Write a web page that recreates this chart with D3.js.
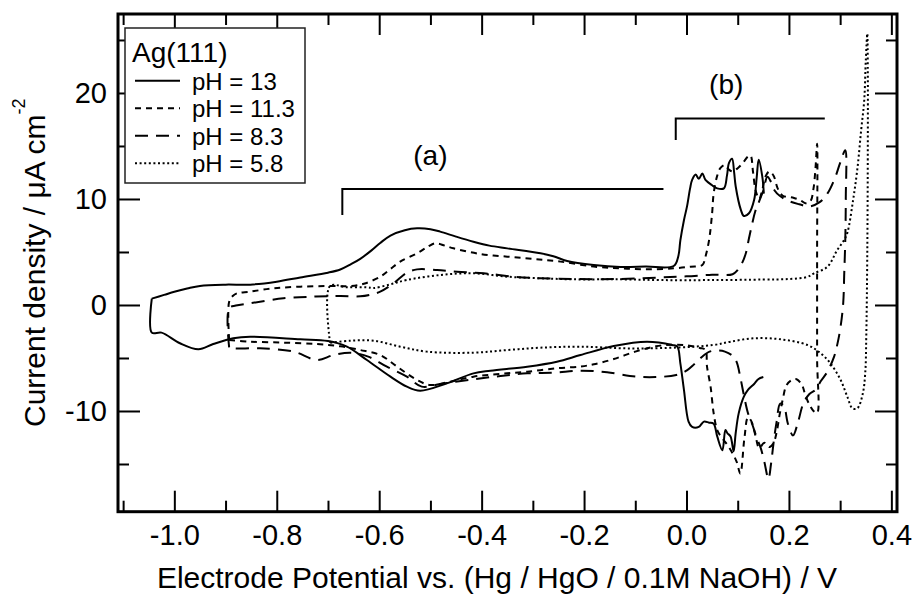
<!DOCTYPE html>
<html>
<head>
<meta charset="utf-8">
<script src="https://cdn.jsdelivr.net/npm/d3@7"></script>
<style>
  body { margin: 0; background: #fff; }
  svg { display: block; font-family: "Liberation Sans", Arial, Helvetica, sans-serif; }
</style>
</head>
<body>
<svg id="chart" width="913" height="599"></svg>
<script>
// CV curves: [potential / V, current density / uA cm-2]
const ph13 = [
  [-1.044, 0.6], [-1.02, 0.95], [-1.0, 1.25], [-0.975, 1.55], [-0.95, 1.8], [-0.9, 1.92], [-0.852, 1.92],
  [-0.8, 2.2], [-0.754, 2.6], [-0.7, 3.05], [-0.676, 3.35], [-0.655, 3.85], [-0.637, 4.35], [-0.615, 5.15],
  [-0.598, 5.85], [-0.578, 6.55], [-0.55, 7.05], [-0.526, 7.23], [-0.5, 7.15], [-0.481, 6.92], [-0.45, 6.45],
  [-0.416, 5.97], [-0.385, 5.6], [-0.35, 5.34], [-0.285, 4.88], [-0.26, 4.6], [-0.233, 4.15], [-0.181, 3.77],
  [-0.129, 3.58], [-0.08, 3.62], [-0.025, 3.68], [-0.016, 4.6], [-0.012, 6.1], [-0.005, 8.0], [0.001, 9.3],
  [0.007, 11.0], [0.011, 11.8], [0.018, 12.3], [0.024, 11.9], [0.031, 12.4], [0.037, 11.8], [0.05, 11.3],
  [0.06, 11.0], [0.073, 11.0], [0.079, 12.2], [0.083, 13.4], [0.089, 13.8], [0.093, 12.5], [0.096, 11.2],
  [0.106, 9.0], [0.112, 8.4], [0.122, 8.65], [0.132, 9.9], [0.137, 12.0], [0.141, 13.7], [0.148, 12.1],
  [0.151, 10.5],
  null,
  [0.15, -6.8], [0.14, -7.0], [0.132, -7.45], [0.12, -8.0], [0.112, -8.65], [0.102, -10.2], [0.096, -12.1],
  [0.092, -13.8], [0.086, -12.4], [0.08, -12.1], [0.076, -11.8], [0.07, -13.7], [0.06, -12.4], [0.053, -11.2],
  [0.044, -11.1], [0.034, -11.0], [0.024, -11.5], [0.011, -11.5], [0.004, -11.0], [-0.005, -8.0],
  [-0.012, -5.5], [-0.018, -3.93], [-0.028, -3.77], [-0.077, -3.46], [-0.142, -3.87], [-0.207, -4.72],
  [-0.253, -5.35], [-0.311, -5.82], [-0.383, -6.2], [-0.416, -6.45], [-0.468, -7.39], [-0.52, -8.08],
  [-0.546, -7.7], [-0.578, -6.76], [-0.624, -5.19], [-0.663, -3.93], [-0.7, -3.4], [-0.754, -3.24],
  [-0.852, -2.99], [-0.885, -3.14], [-0.924, -3.68], [-0.953, -4.18], [-0.989, -3.61], [-1.025, -2.61],
  [-1.044, -2.61], [-1.044, 0.6]
];

const ph113 = [
  [-0.893, -3.3], [-0.893, 0.3], [-0.886, 0.85], [-0.878, 1.1], [-0.852, 1.26], [-0.807, 1.57], [-0.754, 1.73],
  [-0.689, 1.79], [-0.655, 1.78], [-0.63, 2.0], [-0.598, 2.67], [-0.578, 3.4], [-0.559, 4.09], [-0.526, 4.88],
  [-0.505, 5.5], [-0.49, 5.82], [-0.472, 5.6], [-0.455, 5.35], [-0.403, 4.81], [-0.35, 4.56], [-0.298, 4.34],
  [-0.246, 4.09], [-0.181, 3.62], [-0.129, 3.46], [-0.077, 3.36], [-0.025, 3.46], [0.008, 3.61], [0.031, 3.77],
  [0.037, 4.56], [0.044, 6.1], [0.05, 8.65], [0.053, 10.5], [0.06, 12.2], [0.066, 12.9], [0.075, 13.2],
  [0.082, 12.8], [0.09, 12.6], [0.1, 12.9], [0.11, 13.4], [0.12, 14.0], [0.125, 14.1], [0.13, 12.5],
  [0.135, 10.8], [0.142, 10.0], [0.148, 10.9], [0.155, 12.2], [0.162, 12.6], [0.17, 12.2], [0.178, 11.0],
  [0.188, 10.3], [0.2, 10.2], [0.21, 10.1], [0.222, 9.9], [0.232, 9.6], [0.242, 9.8], [0.248, 11.0],
  [0.252, 13.0], [0.255, 15.2], [0.255, 5.0], [0.255, -5.0], [0.255, -10.2], [0.248, -10.0], [0.24, -9.4],
  [0.232, -8.5], [0.226, -7.6], [0.215, -7.0], [0.205, -7.1], [0.195, -7.6], [0.188, -8.9], [0.182, -10.3],
  [0.176, -12.0], [0.17, -13.0], [0.162, -13.4], [0.152, -13.0], [0.142, -13.5], [0.135, -12.4],
  [0.127, -11.0], [0.12, -10.6], [0.113, -12.6], [0.105, -15.9], [0.098, -14.8], [0.09, -14.0],
  [0.08, -13.2], [0.07, -12.6], [0.06, -11.8], [0.053, -10.2], [0.047, -7.7], [0.04, -5.8], [0.037, -4.25],
  [0.026, -4.05], [0.0, -3.8], [-0.03, -3.75], [-0.06, -3.9], [-0.1, -4.4], [-0.142, -5.1], [-0.181, -5.6],
  [-0.207, -5.8], [-0.253, -5.97], [-0.311, -6.29], [-0.363, -6.5], [-0.416, -6.76], [-0.461, -7.23],
  [-0.5, -7.55], [-0.526, -7.08], [-0.565, -5.82], [-0.598, -4.72], [-0.637, -4.25], [-0.676, -3.9],
  [-0.722, -3.68], [-0.787, -3.55], [-0.852, -3.46], [-0.893, -3.3]
];

const ph83 = [
  [-0.893, -4.0], [-0.893, -0.3], [-0.88, -0.05], [-0.852, 0.16], [-0.787, 0.63], [-0.728, 0.79], [-0.676, 0.85],
  [-0.637, 0.82], [-0.615, 1.0], [-0.598, 1.26], [-0.572, 2.04], [-0.546, 3.05], [-0.526, 3.36], [-0.487, 3.3],
  [-0.448, 3.14], [-0.396, 2.99], [-0.337, 2.67], [-0.285, 2.52], [-0.22, 2.45], [-0.129, 2.45], [-0.05, 2.6],
  [0.0, 2.7], [0.05, 2.85], [0.09, 2.9], [0.1, 3.3], [0.108, 3.9], [0.116, 4.9], [0.122, 6.3], [0.128, 7.6],
  [0.134, 8.8], [0.142, 9.8], [0.15, 10.8], [0.158, 12.1], [0.165, 11.6], [0.172, 10.8], [0.182, 10.3],
  [0.2, 9.8], [0.22, 9.5], [0.24, 9.3], [0.26, 9.7], [0.275, 10.5], [0.29, 12.0], [0.3, 13.4], [0.31, 14.6],
  [0.311, 10.0], [0.31, 6.1], [0.308, 3.0], [0.306, 0.2], [0.301, -2.0], [0.295, -3.6], [0.288, -4.9],
  [0.275, -6.3], [0.262, -7.2], [0.252, -8.0], [0.24, -8.4], [0.228, -9.3], [0.218, -11.0], [0.208, -12.3],
  [0.198, -11.2], [0.19, -9.5], [0.183, -9.3], [0.176, -11.0], [0.17, -13.0], [0.165, -15.0], [0.16, -16.4],
  [0.152, -14.8], [0.145, -13.5], [0.137, -12.5], [0.128, -11.2], [0.12, -10.2], [0.112, -8.5], [0.105, -6.8],
  [0.098, -5.4], [0.09, -4.8], [0.075, -4.4], [0.06, -4.3], [0.045, -4.4], [0.03, -4.9], [0.015, -5.6],
  [0.0, -6.2], [-0.02, -6.6], [-0.06, -6.8], [-0.1, -6.75], [-0.155, -6.35], [-0.207, -6.2], [-0.259, -6.39],
  [-0.311, -6.45], [-0.363, -6.7], [-0.416, -7.01], [-0.481, -7.45], [-0.517, -7.7], [-0.546, -6.76],
  [-0.585, -5.82], [-0.62, -4.9], [-0.655, -4.5], [-0.689, -4.72], [-0.722, -5.19], [-0.767, -4.4],
  [-0.833, -4.09], [-0.884, -4.09], [-0.893, -4.0]
];

const ph58 = [
  [-0.696, -3.56], [-0.696, 1.79], [-0.663, 1.67], [-0.624, 1.67], [-0.611, 1.6], [-0.578, 1.95], [-0.546, 2.36],
  [-0.481, 2.83], [-0.416, 2.99], [-0.35, 2.67], [-0.285, 2.52], [-0.22, 2.42], [-0.129, 2.42], [-0.05, 2.35],
  [0.05, 2.35], [0.15, 2.4], [0.2, 2.45], [0.236, 2.65], [0.249, 2.99], [0.275, 3.6], [0.2945, 5.2],
  [0.3075, 6.1], [0.314, 6.8], [0.325, 9.8], [0.334, 13.0], [0.341, 16.5], [0.347, 19.3], [0.35, 23.0],
  [0.353, 25.6], [0.354, 22.0], [0.354, 15.0], [0.353, 5.0], [0.351, -3.0], [0.349, -6.4], [0.344, -8.4],
  [0.3336, -9.75], [0.324, -9.75], [0.314, -8.65], [0.301, -7.08], [0.281, -5.5], [0.262, -4.56],
  [0.236, -3.77], [0.184, -3.24], [0.132, -3.14], [0.086, -3.46], [0.053, -3.77], [-0.013, -4.0],
  [-0.109, -4.1], [-0.207, -3.93], [-0.285, -4.03], [-0.35, -4.25], [-0.416, -4.5], [-0.507, -4.4],
  [-0.559, -3.93], [-0.611, -3.37], [-0.657, -3.37], [-0.696, -3.56]
];

const seriesLabels = ['pH = 13', 'pH = 11.3', 'pH = 8.3', 'pH = 5.8'];
const xMajorTicks = [-1.0, -0.8, -0.6, -0.4, -0.2, 0.0, 0.2, 0.4];
const xMinorTicks = [-1.1, -0.9, -0.7, -0.5, -0.3, -0.1, 0.1, 0.3];
const yMajorTicks = [-10, 0, 10, 20];
const yMinorTicks = [-15, -5, 5, 15, 25];
const brackets = [
  { label: '(a)', from: -0.672, to: -0.045, level: 10.94, end: 8.49, textAt: [-0.5, 13.2] },
  { label: '(b)', from: -0.021, to: 0.27, level: 17.6, end: 15.57, textAt: [0.0775, 19.9] }
];

const svg = d3.select('#chart');
const plot = { left: 118, right: 897, top: 14, bottom: 511.7 };

const x = d3.scaleLinear().domain([-1.11, 0.411]).range([plot.left, plot.right]);
const y = d3.scaleLinear().domain([-19.5, 27.45]).range([plot.bottom, plot.top]);

function styleAxis(g) {
  g.select('.domain').remove();
  g.attr('font-family', null).attr('font-size', null);
  g.selectAll('line').attr('stroke', '#000').attr('stroke-width', 2);
  g.selectAll('text').attr('fill', '#000').style('font-size', '29px');
}

// inward ticks on all four sides
svg.append('g').attr('transform', `translate(0,${plot.bottom})`)
  .call(d3.axisBottom(x).tickValues(xMajorTicks).tickSize(-21).tickPadding(13).tickFormat((d) => d.toFixed(1)))
  .call(styleAxis);
svg.append('g').attr('transform', `translate(0,${plot.bottom})`)
  .call(d3.axisBottom(x).tickValues(xMinorTicks).tickSize(-11).tickFormat(''))
  .call(styleAxis);
svg.append('g').attr('transform', `translate(0,${plot.top})`)
  .call(d3.axisTop(x).tickValues(xMajorTicks).tickSize(-21).tickFormat(''))
  .call(styleAxis);
svg.append('g').attr('transform', `translate(0,${plot.top})`)
  .call(d3.axisTop(x).tickValues(xMinorTicks).tickSize(-11).tickFormat(''))
  .call(styleAxis);

svg.append('g').attr('transform', `translate(${plot.left},0)`)
  .call(d3.axisLeft(y).tickValues(yMajorTicks).tickSize(-22).tickPadding(11).tickFormat((d) => String(d)))
  .call(styleAxis);
svg.append('g').attr('transform', `translate(${plot.left},0)`)
  .call(d3.axisLeft(y).tickValues(yMinorTicks).tickSize(-11).tickFormat(''))
  .call(styleAxis);
svg.append('g').attr('transform', `translate(${plot.right},0)`)
  .call(d3.axisRight(y).tickValues(yMajorTicks).tickSize(-22).tickFormat(''))
  .call(styleAxis);
svg.append('g').attr('transform', `translate(${plot.right},0)`)
  .call(d3.axisRight(y).tickValues(yMinorTicks).tickSize(-11).tickFormat(''))
  .call(styleAxis);

svg.append('rect')
  .attr('x', plot.left).attr('y', plot.top)
  .attr('width', plot.right - plot.left).attr('height', plot.bottom - plot.top)
  .attr('fill', 'none').attr('stroke', '#000').attr('stroke-width', 3);

// curves
const dashes = ['none', '6,5', '13,8', '2,2.6'];
const line = d3.line()
  .defined((d) => d !== null)
  .x((d) => x(d[0]))
  .y((d) => y(d[1]))
  .curve(d3.curveCatmullRom.alpha(0.5));

svg.append('g').selectAll('path')
  .data([ph13, ph113, ph83, ph58])
  .enter()
  .append('path')
  .attr('d', line)
  .attr('fill', 'none')
  .attr('stroke', '#000')
  .attr('stroke-width', 2)
  .attr('stroke-dasharray', (d, i) => dashes[i]);

// (a) / (b) brackets
const ann = svg.append('g');
brackets.forEach((b) => {
  ann.append('path')
    .attr('d', `M${x(b.from)},${y(b.end)}V${y(b.level)}H${x(b.to)}`)
    .attr('fill', 'none').attr('stroke', '#000').attr('stroke-width', 2);
  ann.append('text')
    .attr('x', x(b.textAt[0])).attr('y', y(b.textAt[1]))
    .attr('text-anchor', 'middle')
    .style('font-size', '28px')
    .text(b.label);
});

// legend
const legend = svg.append('g');
legend.append('rect')
  .attr('x', 125).attr('y', 28).attr('width', 180).attr('height', 155)
  .attr('fill', '#fff').attr('stroke', '#222').attr('stroke-width', 1.5);
legend.append('text').attr('x', 132).attr('y', 62).style('font-size', '28px').text('Ag(111)');
seriesLabels.forEach((label, i) => {
  const ly = 80.7 + i * 27.5;
  legend.append('line')
    .attr('x1', 135).attr('x2', 180).attr('y1', ly).attr('y2', ly)
    .attr('stroke', '#000').attr('stroke-width', 2)
    .attr('stroke-dasharray', dashes[i]);
  legend.append('text').attr('x', 192).attr('y', ly + 9).style('font-size', '24px').text(label);
});

// axis titles
svg.append('text')
  .attr('x', 497).attr('y', 588)
  .attr('text-anchor', 'middle')
  .style('font-size', '30px')
  .text('Electrode Potential vs. (Hg / HgO / 0.1M NaOH) / V');

const yTitle = svg.append('text')
  .attr('transform', 'translate(45,427) rotate(-90)')
  .style('font-size', '30px');
yTitle.append('tspan').text('Current density / μA cm');
yTitle.append('tspan').attr('dy', -20).style('font-size', '18px').text('-2');
</script>
</body>
</html>
